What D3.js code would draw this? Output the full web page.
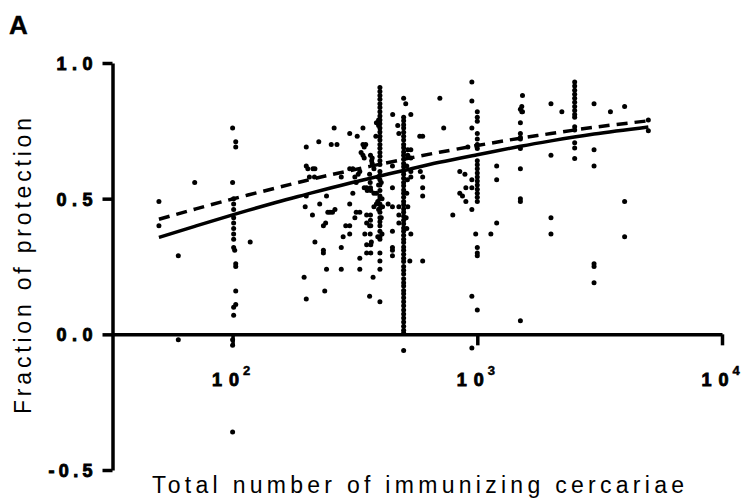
<!DOCTYPE html>
<html>
<head>
<meta charset="utf-8">
<script src="https://cdn.jsdelivr.net/npm/d3@7"></script>
<style>
  body { margin: 0; background: #fff; }
  svg { display: block; font-family: "Liberation Sans", Arial, sans-serif; }
  .bold { font-weight: 700; font-family: "Liberation Sans", Arial, sans-serif; }
</style>
</head>
<body>
<div class="canvas"></div>
<script>
// ---- data ----
const yTicks = [-0.5, 0, 0.5, 1.0];
const yTickLabels = ['-0.5', '0.0', '0.5', '1.0'];
const xTicks = [100, 1000, 10000];
const xTickExp = ['2', '3', '4'];

// fitted curves
const fitX      = [50, 70, 100, 150, 200, 300, 500, 700, 1000, 1500, 2000, 3000, 5000];
const fitSolid  = [0.357, 0.398, 0.44, 0.486, 0.516, 0.557, 0.604, 0.634, 0.662, 0.693, 0.713, 0.738, 0.764];
const fitDashed = [0.424, 0.461, 0.499, 0.539, 0.567, 0.603, 0.645, 0.671, 0.696, 0.723, 0.740, 0.763, 0.787];

// individual observations [total cercariae, fraction of protection]
const lowDose = [
  [50,0.49],[50,0.40],[60,0.29],[60,-0.02],[70,0.56],
  [100,0.76],[103,0.71],[103,0.69],[100,0.56],[101,0.50],[101,0.48],[101,0.46],[101,0.43],
  [101,0.41],[101,0.39],[101,0.37],[101,0.35],[101,0.32],[102,0.31],[103,0.26],[103,0.25],
  [103,0.16],[103,0.11],[101,0.10],[101,0.07],[100,-0.02],[100,-0.04],[100,-0.36],
  [118,0.34]
];
const midDose = [
  [200,0.69],[200,0.62],[203,0.61],[213,0.61],[217,0.61],[200,0.51],[198,0.47],[196,0.21],[200,0.13],
  [212,0.44],[217,0.34],[225,0.71],[227,0.48],[206,0.58],[216,0.58],
  [235,0.40],[240,0.41],[242,0.51],[235,0.31],[235,0.30],[242,0.24],[238,0.16],
  [245,0.45],[250,0.45],[256,0.45],[262,0.46],[253,0.70],[267,0.70],[260,0.76],
  [278,0.58],[278,0.32],[278,0.24],[283,0.36],[290,0.40],
  [301,0.74],[301,0.61],[301,0.48],[301,0.40],[301,0.37],[310,0.52],[310,0.61],[316,0.58],[316,0.43],
  [320,0.56],[320,0.45],[323,0.73],[326,0.59],[331,0.60],[331,0.45],[331,0.24],[331,0.28],[335,0.67],
  [341,0.76],[341,0.70],[341,0.66],[345,0.69],[345,0.65],[345,0.54],[347,0.37],[350,0.70],
  [353,0.54],[355,0.53],[353,0.44],[353,0.41],[353,0.33],[353,0.30],[363,0.40],[363,0.59],[363,0.14],
  [369,0.34],[372,0.65],[372,0.63],[375,0.21],[378,0.61],[378,0.52],[378,0.47],[387,0.52],[387,0.48],
  [387,0.78],[385,0.73],[366,0.66],[370,0.64],[365,0.56],[366,0.54],[367,0.53],[366,0.44],
  [366,0.42],[367,0.40],[365,0.37],[367,0.33],[367,0.30]
];
const dose400 = [
  [400,0.91],[400,0.895],[400,0.88],[400,0.866],[400,0.85],[400,0.836],[400,0.82],[400,0.805],
  [400,0.79],[400,0.776],[400,0.76],[400,0.746],[400,0.73],[400,0.716],[400,0.70],[400,0.686],
  [400,0.67],[400,0.656],[400,0.64],[400,0.626],[400,0.60],[400,0.586],[400,0.57],[400,0.55],
  [400,0.53],[400,0.51],[400,0.50],[400,0.48],[400,0.465],[400,0.45],[400,0.43],[400,0.415],
  [400,0.40],[400,0.38],[400,0.36],[400,0.35],[400,0.30],[400,0.27],[400,0.24],[400,0.12],
  [395,0.79],[395,0.77],[393,0.58],[395,0.55],[405,0.56],[408,0.50],[392,0.49],[410,0.47],
  [395,0.46],[405,0.43],[392,0.36],[408,0.37]
];
const dose500 = [
  [500,0.80],[500,0.787],[500,0.772],[500,0.76],[500,0.745],[500,0.73],[500,0.716],[500,0.70],
  [500,0.688],[500,0.672],[500,0.66],[500,0.645],[500,0.63],[500,0.618],[500,0.602],[500,0.59],
  [500,0.575],[500,0.56],[500,0.548],[500,0.532],[500,0.52],[500,0.505],[500,0.49],[500,0.478],
  [500,0.462],[500,0.45],[500,0.435],[500,0.42],[500,0.408],[500,0.392],[500,0.38],[500,0.365],
  [500,0.35],[500,0.338],[500,0.322],[500,0.31],[500,0.295],[500,0.28],[500,0.268],[500,0.25],
  [500,0.236],[500,0.222],[500,0.205],[500,0.19],[500,0.178],[500,0.162],[500,0.15],[500,0.135],
  [500,0.12],[500,0.105],[500,0.09],[500,0.075],[500,0.06],[500,0.045],[500,0.03],[500,0.015],
  [500,0.005],[500,-0.06],
  [500,0.87],[510,0.85],[520,0.68],[520,0.66],[515,0.62],[518,0.57],[515,0.52],[520,0.47],
  [512,0.43],[515,0.39]
];
const highDose = [
  [451,0.81],[473,0.77],[450,0.62],[450,0.54],[432,0.48],[450,0.47],[450,0.38],[450,0.32],
  [450,0.31],[450,0.29],[478,0.74],[478,0.47],[478,0.44],[478,0.41],
  [535,0.81],[535,0.37],[530,0.27],[535,0.68],[535,0.65],[535,0.60],[535,0.58],
  [582,0.73],[598,0.73],[585,0.60],[598,0.58],[598,0.54],[598,0.51],[598,0.27],
  [703,0.87],[729,0.76],[794,0.44],[848,0.60],[848,0.52],[870,0.51],[898,0.49],[890,0.59],
  [898,0.54],[915,0.69],
  [950,0.93],[950,0.86],[950,0.76],[950,0.57],[950,0.54],[950,0.46],[950,0.14],[950,-0.05],
  [1000,0.82],[1000,0.80],[1000,0.785],[1000,0.74],[1000,0.72],[1000,0.70],[1000,0.685],
  [1000,0.64],[1000,0.625],[1000,0.61],[1000,0.595],[1000,0.58],[1000,0.565],[1000,0.55],
  [1000,0.535],[1000,0.52],[1000,0.505],[1000,0.49],[985,0.37],[1000,0.32],[1000,0.30],
  [1000,0.29],[1000,0.09],
  [1136,0.37],[1200,0.41],[1200,0.62],[1200,0.57],
  [1530,0.88],[1500,0.83],[1520,0.82],[1530,0.82],[1520,0.84],[1500,0.78],[1500,0.74],
  [1500,0.725],[1500,0.72],[1500,0.685],[1500,0.61],[1500,0.50],[1500,0.49],[1500,0.05],
  [2000,0.85],[2000,0.66],[2000,0.43],[2000,0.37],[2216,0.82],
  [2500,0.93],[2500,0.915],[2500,0.90],[2500,0.885],[2500,0.87],[2500,0.855],[2500,0.84],
  [2500,0.825],[2500,0.81],[2500,0.80],[2500,0.765],[2500,0.753],[2500,0.706],[2500,0.687],
  [2500,0.648],
  [3000,0.85],[3000,0.68],[3000,0.62],[3000,0.26],[3000,0.25],[3000,0.19],
  [3500,0.82],[4000,0.84],[4000,0.49],[4000,0.36],[5000,0.79],[5000,0.75]
];
const points = [...lowDose, ...midDose, ...dose400, ...dose500, ...highDose];

// ---- layout ----
const width = 747, height = 502;

const svg = d3.select('.canvas')
    .append('svg')
    .attr('width', width)
    .attr('height', height);

const x = d3.scaleLog().domain([32.3, 10000]).range([112.5, 722]);
const y = d3.scaleLinear().domain([-0.5, 1.0]).range([470, 63]);

// panel letter
svg.append('text')
    .attr('class', 'bold')
    .attr('x', 9)
    .attr('y', 34)
    .style('font-size', '26px')
    .attr('stroke', '#000')
    .attr('stroke-width', 0.4)
    .text('A');

// points
svg.append('g')
    .selectAll('circle')
    .data(points)
    .enter()
    .append('circle')
    .attr('cx', d => x(d[0]))
    .attr('cy', d => y(d[1]))
    .attr('r', 2.5)
    .attr('fill', '#000');

// fit curves
const fitData = (vals) => fitX.map((v, i) => [v, vals[i]]);
const line = d3.line()
    .x(d => x(d[0]))
    .y(d => y(d[1]))
    .curve(d3.curveNatural);

svg.append('path')
    .datum(fitData(fitSolid))
    .attr('fill', 'none')
    .attr('stroke', '#000')
    .attr('stroke-width', 3.5)
    .attr('d', line);

svg.append('path')
    .datum(fitData(fitDashed))
    .attr('fill', 'none')
    .attr('stroke', '#000')
    .attr('stroke-width', 3.5)
    .attr('stroke-dasharray', '11 7')
    .attr('d', line);

// y axis
const yAxis = d3.axisLeft(y)
    .tickValues(yTicks)
    .tickSize(10)
    .tickSizeOuter(0)
    .tickPadding(10)
    .tickFormat((d, i) => yTickLabels[i]);

const yAxisGroup = svg.append('g')
    .attr('transform', 'translate(112.5, 0)')
    .call(yAxis);

yAxisGroup.attr('font-family', null).attr('font-size', null);
yAxisGroup.select('.domain').attr('stroke-width', 3.5);
yAxisGroup.selectAll('.tick line').attr('stroke-width', 3.5);
yAxisGroup.selectAll('.tick text')
    .attr('class', 'bold')
    .style('font-size', '18px')
    .attr('fill', '#000')
    .attr('stroke', '#000')
    .attr('stroke-width', 0.9)
    .attr('dy', '0.36em')
    .attr('textLength', d => d < 0 ? 44 : 36)
    .attr('lengthAdjust', 'spacing');

// x axis at y = 0
const xAxis = d3.axisBottom(x)
    .tickValues(xTicks)
    .tickSize(11)
    .tickSizeOuter(0)
    .tickFormat('');

const xAxisGroup = svg.append('g')
    .attr('transform', `translate(0, ${y(0)})`)
    .call(xAxis);

xAxisGroup.attr('font-family', null).attr('font-size', null);
xAxisGroup.select('.domain').attr('stroke-width', 3.5);
xAxisGroup.selectAll('.tick line').attr('stroke-width', 3.5);

xAxisGroup.selectAll('.tick').each(function(d, i) {
    const tick = d3.select(this);
    tick.append('text')
        .attr('class', 'bold')
        .attr('x', -21)
        .attr('y', 52)
        .attr('text-anchor', 'start')
        .style('font-size', '18px')
        .attr('fill', '#000')
        .attr('stroke', '#000')
        .attr('stroke-width', 0.9)
        .attr('textLength', 27)
        .attr('lengthAdjust', 'spacing')
        .text('10');
    tick.append('text')
        .attr('class', 'bold')
        .attr('x', 10)
        .attr('y', 41)
        .attr('text-anchor', 'start')
        .style('font-size', '13px')
        .attr('fill', '#000')
        .attr('stroke', '#000')
        .attr('stroke-width', 0.5)
        .text(xTickExp[i]);
});

// axis titles
svg.append('text')
    .attr('transform', 'translate(31, 266) rotate(-90)')
    .attr('text-anchor', 'middle')
    .style('font-size', '23px')
    .attr('textLength', 296)
    .attr('lengthAdjust', 'spacing')
    .text('Fraction of protection');

svg.append('text')
    .attr('x', 418)
    .attr('y', 493)
    .attr('text-anchor', 'middle')
    .style('font-size', '23px')
    .attr('textLength', 532)
    .attr('lengthAdjust', 'spacing')
    .text('Total number of immunizing cercariae');
</script>
</body>
</html>
